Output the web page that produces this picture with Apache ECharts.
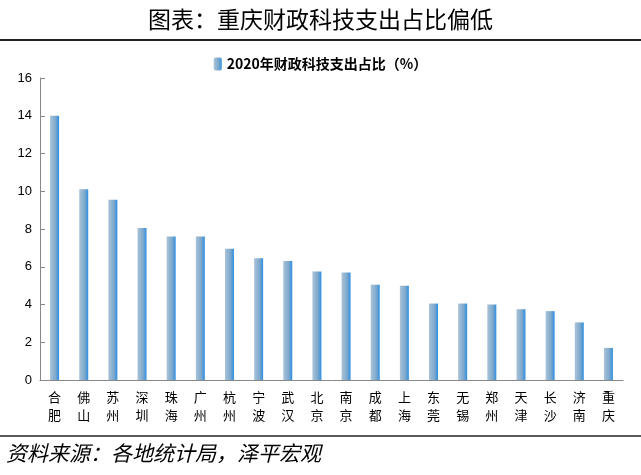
<!DOCTYPE html><html><head><meta charset="utf-8"><script src="https://cdn.jsdelivr.net/npm/echarts@6/dist/echarts.min.js"></script>
<style>body{margin:0;background:#fff}#c{width:641px;height:475px}</style></head><body><div id="c"></div><script>
const categories=['合肥','佛山','苏州','深圳','珠海','广州','杭州','宁波','武汉','北京','南京','成都','上海','东莞','无锡','郑州','天津','长沙','济南','重庆'];
const values=[14.0,10.1,9.55,8.05,7.6,7.6,6.95,6.45,6.3,5.75,5.7,5.05,5.0,4.05,4.05,4.0,3.75,3.65,3.05,1.7];
const chart=echarts.init(document.getElementById('c'));
const grad=new echarts.graphic.LinearGradient(0,0,1,0,[{offset:0,color:'#a9c3d8'},{offset:0.6,color:'#7fa9cc'},{offset:1,color:'#2f8fe0'}]);
chart.setOption({
animation:false,
title:{text:'图表：重庆财政科技支出占比偏低',left:'center',top:3,textStyle:{fontFamily:'Noto Sans CJK SC',fontWeight:'normal',fontSize:23,color:'#000'}},
graphic:[{type:'line',shape:{x1:0,y1:40,x2:641,y2:40},style:{stroke:'#222',lineWidth:2}},
{type:'line',shape:{x1:0,y1:436,x2:641,y2:436},style:{stroke:'#222',lineWidth:1.5}},
{type:'text',left:6,top:443,style:{text:'资料来源：各地统计局，泽平宏观',font:'italic 21px "Noto Sans CJK SC"',fill:'#000'}}],
legend:{top:52,left:'center',itemWidth:8,itemHeight:13,textStyle:{fontFamily:'Noto Sans CJK SC',fontWeight:'bold',fontSize:14,color:'#000'}},
grid:{left:40,right:18,top:78,bottom:95},
xAxis:{type:'category',data:categories,axisTick:{show:false},axisLine:{lineStyle:{color:'#888'}},
axisLabel:{interval:0,formatter:v=>v.split('').join('\n'),fontFamily:'Noto Sans CJK SC',fontSize:13,color:'#000',lineHeight:18,margin:8}},
yAxis:{type:'value',min:0,max:16,interval:2,splitLine:{show:false},axisLine:{show:true,lineStyle:{color:'#888'}},axisTick:{show:true,inside:true,lineStyle:{color:'#888'}},
axisLabel:{fontSize:13,color:'#000',fontFamily:'Liberation Sans'}},
series:[{name:'2020年财政科技支出占比（%）',type:'bar',data:values,barWidth:9,itemStyle:{color:grad}}]
});
</script></body></html>
